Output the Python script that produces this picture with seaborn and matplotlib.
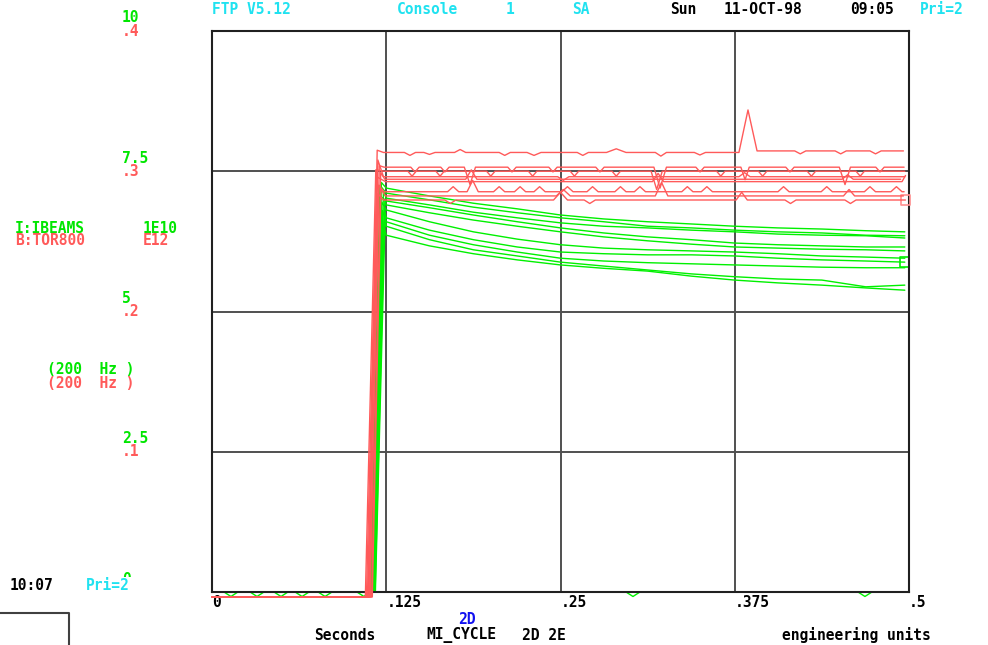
import matplotlib
matplotlib.use("Agg")
import matplotlib.pyplot as plt
import pandas as pd
import seaborn as sns
from matplotlib.lines import Line2D

# ---------------- data ----------------
seconds_ticks = [0, 0.125, 0.25, 0.375, 0.5]
seconds_labels = ["0", ".125", ".25", ".375", ".5"]

ibeam_scale = [0, 2.5, 5, 7.5, 10]
ibeam_scale_labels = ["0", "2.5", "5", "7.5", "10"]
tor_scale = [0.1, 0.2, 0.3, 0.4]
tor_scale_labels = [".1", ".2", ".3", ".4"]

# I:IBEAMS (1E10) - sample times after injection and one row per cycle
ibeam_times = [0.125, 0.156, 0.1875, 0.219, 0.25, 0.281, 0.3125,
               0.344, 0.375, 0.406, 0.4375, 0.469, 0.497]
ibeam_levels = [
    [7.20, 7.06, 6.93, 6.83, 6.72, 6.65, 6.60, 6.56, 6.52, 6.49, 6.47, 6.44, 6.42],
    [7.11, 6.99, 6.86, 6.76, 6.67, 6.60, 6.52, 6.49, 6.45, 6.42, 6.40, 6.36, 6.35],
    [7.02, 6.90, 6.77, 6.67, 6.58, 6.52, 6.49, 6.45, 6.42, 6.38, 6.36, 6.35, 6.31],
    [6.97, 6.85, 6.72, 6.60, 6.49, 6.40, 6.33, 6.28, 6.22, 6.19, 6.17, 6.15, 6.15],
    [6.90, 6.76, 6.63, 6.52, 6.42, 6.33, 6.26, 6.20, 6.15, 6.13, 6.11, 6.10, 6.08],
    [6.81, 6.60, 6.42, 6.29, 6.19, 6.13, 6.10, 6.08, 6.06, 6.03, 5.99, 5.97, 5.95],
    [6.67, 6.45, 6.28, 6.15, 6.06, 6.03, 6.01, 6.01, 5.99, 5.95, 5.92, 5.90, 5.88],
    [6.60, 6.36, 6.19, 6.06, 5.95, 5.90, 5.87, 5.85, 5.83, 5.81, 5.79, 5.78, 5.78],
    [6.52, 6.28, 6.10, 5.99, 5.88, 5.81, 5.74, 5.67, 5.62, 5.58, 5.56, 5.44, 5.47],
    [6.36, 6.17, 6.03, 5.92, 5.83, 5.77, 5.72, 5.63, 5.56, 5.51, 5.47, 5.42, 5.38],
]
ibeam_rise_start = [0.1150, 0.1140, 0.1160, 0.1145, 0.1170, 0.1148, 0.1165, 0.1152, 0.1172, 0.1158]
ibeam_rise_top = [0.1215, 0.1205, 0.1230, 0.1210, 0.1240, 0.1218, 0.1235, 0.1222, 0.1242, 0.1228]
ibeam_peak = [7.30, 7.25, 7.15, 7.05, 7.00, 6.95, 6.85, 6.80, 6.70, 6.55]

# idle IBEAMS samples on the baseline (before injection and late in the cycle)
ibeam_idle_a = [(0.0, 0.0), (0.0086, 0.0), (0.0136, -0.08), (0.0186, 0.0),
                (0.0273, 0.0), (0.0323, -0.08), (0.0373, 0.0), (0.0445, 0.0),
                (0.0495, -0.08), (0.0545, 0.0), (0.0596, 0.0), (0.0646, -0.08),
                (0.0696, 0.0), (0.0761, 0.0), (0.0811, -0.08), (0.0861, 0.0),
                (0.1040, 0.0), (0.1090, -0.08), (0.1130, 0.0)]
ibeam_idle_b = [(0.2870, 0.0), (0.2970, 0.0), (0.3020, -0.08), (0.3070, 0.0),
                (0.4634, 0.0), (0.4684, -0.08), (0.4734, 0.0), (0.4985, 0.0)]

# B:TOR800 (E12) - one list of (seconds, value) per cycle
tor_1 = [(0.0, -0.0035), (0.1120, -0.0035), (0.1185, 0.3150), (0.1230, 0.3134),
         (0.138, 0.3134), (0.142, 0.3113), (0.146, 0.3134), (0.152, 0.3134),
         (0.156, 0.3120), (0.160, 0.3134), (0.174, 0.3134), (0.178, 0.3155),
         (0.182, 0.3134), (0.206, 0.3134), (0.210, 0.3113), (0.214, 0.3134),
         (0.226, 0.3134), (0.231, 0.3113), (0.236, 0.3134), (0.262, 0.3134),
         (0.266, 0.3113), (0.270, 0.3134), (0.283, 0.3134), (0.290, 0.3160),
         (0.297, 0.3134), (0.318, 0.3134), (0.322, 0.3108), (0.326, 0.3134),
         (0.346, 0.3134), (0.350, 0.3116), (0.354, 0.3134), (0.378, 0.3134),
         (0.3845, 0.3437), (0.391, 0.3145), (0.418, 0.3145), (0.422, 0.3124),
         (0.426, 0.3145), (0.447, 0.3145), (0.451, 0.3124), (0.455, 0.3145),
         (0.472, 0.3145), (0.476, 0.3124), (0.480, 0.3145), (0.496, 0.3145)]
tor_2 = [(0.0, -0.0035), (0.1135, -0.0035), (0.1200, 0.3040), (0.1235, 0.3029),
         (0.1426, 0.3029), (0.1456, 0.2995), (0.1486, 0.3029), (0.1641, 0.3029),
         (0.1671, 0.2995), (0.1701, 0.3029), (0.1810, 0.3029), (0.1851, 0.2905),
         (0.1890, 0.3029), (0.2122, 0.3029), (0.2152, 0.2995), (0.2182, 0.3029),
         (0.2416, 0.3029), (0.2446, 0.2995), (0.2476, 0.3029), (0.2753, 0.3029),
         (0.2783, 0.2995), (0.2813, 0.3029), (0.3170, 0.3029), (0.3214, 0.2880),
         (0.3260, 0.3029), (0.3471, 0.3029), (0.3501, 0.2995), (0.3531, 0.3029),
         (0.3794, 0.3029), (0.3824, 0.2940), (0.3854, 0.3029), (0.4116, 0.3029),
         (0.4146, 0.2995), (0.4176, 0.3029), (0.4500, 0.3029), (0.4541, 0.2905),
         (0.4580, 0.3029), (0.4762, 0.3029), (0.4792, 0.2995), (0.4822, 0.3029),
         (0.4965, 0.3029)]
tor_3 = [(0.0, -0.0035), (0.1100, -0.0035), (0.1175, 0.3010), (0.1240, 0.3000),
         (0.1405, 0.3000), (0.1435, 0.2965), (0.1465, 0.3000), (0.1606, 0.3000),
         (0.1636, 0.2965), (0.1666, 0.3000), (0.1970, 0.3000), (0.2000, 0.2965),
         (0.2030, 0.3000), (0.2270, 0.3000), (0.2300, 0.2965), (0.2330, 0.3000),
         (0.2570, 0.3000), (0.2600, 0.2965), (0.2630, 0.3000), (0.2870, 0.3000),
         (0.2900, 0.2965), (0.2930, 0.3000), (0.3150, 0.3000), (0.3190, 0.2870),
         (0.3230, 0.3000), (0.3620, 0.3000), (0.3650, 0.2965), (0.3680, 0.3000),
         (0.3920, 0.3000), (0.3950, 0.2965), (0.3980, 0.3000), (0.4270, 0.3000),
         (0.4300, 0.2965), (0.4330, 0.3000), (0.4620, 0.3000), (0.4650, 0.2965),
         (0.4680, 0.3000), (0.4970, 0.3000)]
tor_4 = [(0.0, -0.0035), (0.1125, -0.0035), (0.1190, 0.3080), (0.1230, 0.2961),
         (0.2480, 0.2961), (0.2520, 0.2935), (0.2560, 0.2961), (0.3780, 0.2961),
         (0.3820, 0.2990), (0.3860, 0.2961), (0.4970, 0.2961)]
tor_5 = [(0.0, -0.0035), (0.1145, -0.0035), (0.1210, 0.2990), (0.1240, 0.2943),
         (0.1820, 0.2943), (0.1860, 0.3010), (0.1900, 0.2943), (0.4520, 0.2943),
         (0.4560, 0.2975), (0.4600, 0.2943), (0.4940, 0.2943)]
tor_6 = [(0.0, -0.0035), (0.1108, -0.0035), (0.1182, 0.2960), (0.1245, 0.2926),
         (0.3160, 0.2926), (0.3200, 0.2985), (0.3240, 0.2926), (0.4950, 0.2926),
         (0.4975, 0.2970)]
tor_7 = [(0.0, -0.0035), (0.1130, -0.0035), (0.1195, 0.2900), (0.1235, 0.2854),
         (0.169, 0.2854), (0.173, 0.2890), (0.177, 0.2854), (0.183, 0.2854),
         (0.187, 0.2935), (0.191, 0.2854), (0.202, 0.2854), (0.206, 0.2890),
         (0.210, 0.2854), (0.217, 0.2854), (0.221, 0.2890), (0.225, 0.2854),
         (0.231, 0.2854), (0.235, 0.2890), (0.239, 0.2854), (0.251, 0.2854),
         (0.255, 0.2890), (0.259, 0.2854), (0.269, 0.2854), (0.273, 0.2890),
         (0.277, 0.2854), (0.289, 0.2854), (0.293, 0.2890), (0.297, 0.2854),
         (0.303, 0.2854), (0.307, 0.2890), (0.311, 0.2854), (0.337, 0.2854),
         (0.341, 0.2890), (0.345, 0.2854), (0.351, 0.2854), (0.355, 0.2890),
         (0.359, 0.2854), (0.406, 0.2854), (0.410, 0.2890), (0.414, 0.2854),
         (0.437, 0.2854), (0.441, 0.2890), (0.445, 0.2854), (0.468, 0.2854),
         (0.472, 0.2890), (0.476, 0.2854), (0.487, 0.2854), (0.491, 0.2890),
         (0.495, 0.2854), (0.4965, 0.2854)]
tor_8 = [(0.0, -0.0035), (0.1150, -0.0035), (0.1212, 0.2870), (0.1245, 0.2824),
         (0.2470, 0.2824), (0.2520, 0.2870), (0.2570, 0.2824), (0.3180, 0.2824),
         (0.3225, 0.2920), (0.3270, 0.2824), (0.4530, 0.2824), (0.4570, 0.2870),
         (0.4610, 0.2824), (0.4960, 0.2824)]
tor_9 = [(0.0, -0.0035), (0.1115, -0.0035), (0.1190, 0.2840), (0.1230, 0.2795),
         (0.1670, 0.2795), (0.1710, 0.2770), (0.1750, 0.2795), (0.2450, 0.2795),
         (0.2500, 0.2850), (0.2550, 0.2795), (0.2670, 0.2795), (0.2710, 0.2770),
         (0.2750, 0.2795), (0.3760, 0.2795), (0.3800, 0.2850), (0.3840, 0.2795),
         (0.4110, 0.2795), (0.4150, 0.2770), (0.4190, 0.2795), (0.4540, 0.2795),
         (0.4580, 0.2770), (0.4620, 0.2795), (0.4975, 0.2795)]
tor_traces = [tor_1, tor_2, tor_3, tor_4, tor_5, tor_6, tor_7, tor_8, tor_9]

# cursor boxes sit on these cycles
ibeam_cursor_cycle = 6
tor_cursor_cycle = 8

# ---------------- tables ----------------
green_rows = []
for i, levels in enumerate(ibeam_levels):
    pts = [(0.0, 0.0), (ibeam_rise_start[i], 0.0), (ibeam_rise_top[i], ibeam_peak[i])]
    pts += list(zip(ibeam_times, levels))
    green_rows += [(f"I{i}", t, v) for t, v in pts]
green_rows += [("idle_a", t, v) for t, v in ibeam_idle_a]
green_rows += [("idle_b", t, v) for t, v in ibeam_idle_b]
green_df = pd.DataFrame(green_rows, columns=["cycle", "t", "v"])

red_rows = []
for i, trace in enumerate(tor_traces):
    red_rows += [(f"B{i}", t, v) for t, v in trace]
red_df = pd.DataFrame(red_rows, columns=["cycle", "t", "v"])

# ---------------- style ----------------
W, H = 988, 645
GREEN = "#00f000"
GREEN_TXT = "#00e600"
RED = "#ff5a5a"
CYAN = "#20e2f0"
BLUE = "#1010f0"
GRID = "#505050"
FS = 10.5

sns.set_style("white")
plt.rcParams["font.family"] = ["DejaVu Sans Mono"]
plt.rcParams["font.weight"] = "bold"

fig = plt.figure(figsize=(W / 100, H / 100), dpi=100)
ax = fig.add_axes([212 / W, 53 / H, 697 / W, 561 / H])
ax2 = ax.twinx()

sns.lineplot(data=green_df, x="t", y="v", units="cycle", estimator=None, sort=False,
             color=GREEN, lw=1.0, ax=ax, legend=False)
sns.lineplot(data=red_df, x="t", y="v", units="cycle", estimator=None, sort=False,
             color=RED, lw=1.0, ax=ax2, legend=False)

# cursor boxes at the end of the chosen cycles
sns.scatterplot(x=[ibeam_times[-1]], y=[ibeam_levels[ibeam_cursor_cycle][-1]], marker="s",
                s=45, facecolor="none", edgecolor=GREEN, linewidth=1.2, ax=ax, legend=False)
sns.scatterplot(x=[tor_traces[tor_cursor_cycle][-1][0]], y=[tor_traces[tor_cursor_cycle][-1][1]],
                marker="s", s=45, facecolor="none", edgecolor="#ff9090", linewidth=1.2,
                ax=ax2, legend=False)

for a in (ax, ax2):
    for ln in a.lines:
        ln.set_clip_on(False)
    for c in a.collections:
        c.set_clip_on(False)

ax.set_xlim(0, 0.5)
ax.set_ylim(0, 10)
ax2.set_ylim(0, 0.4)

ax.set_xticks(seconds_ticks)
ax.set_xticklabels(seconds_labels, ha="left", fontsize=FS, fontweight="bold", color="black")
ax.set_yticks(ibeam_scale)
ax.tick_params(axis="x", length=0, pad=2.5)
ax.tick_params(axis="y", length=0, labelleft=False)
ax.set_xlabel("")
ax.set_ylabel("")
ax.grid(True, color=GRID, lw=1.4)
ax.set_axisbelow(True)
for s in ax.spines.values():
    s.set_color("#202020")
    s.set_linewidth(1.5)

ax2.set_yticks([])
ax2.set_ylabel("")
ax2.grid(False)
for s in ax2.spines.values():
    s.set_visible(False)

# stacked scale labels on the left
for val, lab in zip(ibeam_scale, ibeam_scale_labels):
    ax.annotate(lab, xy=(122, val), xycoords=("figure pixels", "data"),
                xytext=(0, 13), textcoords="offset pixels", ha="left", va="center",
                color=GREEN_TXT, fontsize=FS, fontweight="bold")
for val, lab in zip(tor_scale, tor_scale_labels):
    ax2.annotate(lab, xy=(122, val), xycoords=("figure pixels", "data"),
                 ha="left", va="center", color=RED, fontsize=FS, fontweight="bold")


def put(x, y, s, color, **kw):
    fig.text(x / W, 1 - y / H, s, color=color, ha="left", va="center",
             fontsize=FS, fontweight="bold", **kw)


# header line
put(212, 10, "FTP V5.12", CYAN)
put(397, 10, "Console", CYAN)
put(506, 10, "1", CYAN)
put(572, 10, "SA", CYAN)
put(670, 10, "Sun", "black")
put(724, 10, "11-OCT-98", "black")
put(850, 10, "09:05", "black")
put(920, 10, "Pri=2", CYAN)

# channel legend
put(15, 228, "I:IBEAMS", GREEN_TXT)
put(143, 228, "1E10", GREEN_TXT)
put(15, 241, "B:TOR800", RED)
put(143, 241, "E12", RED)
put(47, 370, "(200  Hz )", GREEN_TXT)
put(47, 383, "(200  Hz )", RED)

# footer
put(10, 586, "10:07", "black")
put(86, 586, "Pri=2", CYAN, bbox=dict(facecolor="white", edgecolor="none", pad=1.0))
put(458, 619, "2D", BLUE)
put(314, 635, "Seconds", "black")
put(426, 635, "MI_CYCLE", "black")
put(522, 635, "2D 2E", "black")
put(782, 635, "engineering units", "black")

fig.add_artist(Line2D([0, 69 / W, 69 / W], [1 - 613 / H, 1 - 613 / H, 0],
                      transform=fig.transFigure, color="#404040", lw=1.5))

fig.savefig("out.png", dpi=100, facecolor="white")
